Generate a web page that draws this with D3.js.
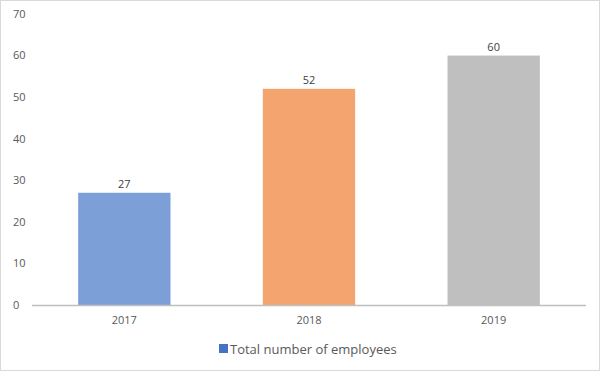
<!DOCTYPE html>
<html>
<head>
<meta charset="utf-8">
<script src="https://cdn.jsdelivr.net/npm/d3@7"></script>
<style>
  body { margin: 0; background: #fff; }
  text { font-family: "Open Sans", "Liberation Sans", sans-serif; fill: #595959; }
</style>
</head>
<body>
<div id="plot"></div>
<script>
var years   = ["2017", "2018", "2019"],
    values  = [27, 52, 60],
    colors  = ["#7C9FD8", "#F4A46E", "#BFBFBF"],
    yTicks  = [0, 10, 20, 30, 40, 50, 60, 70],
    seriesName = "Total number of employees";

var W = 600, H = 371;
var plot = {left: 32, right: 586, top: 14, bottom: 305};

var svg = d3.select("#plot").append("svg")
    .attr("width", W)
    .attr("height", H);

// chart border
svg.append("rect")
    .attr("x", 0.5).attr("y", 0.5)
    .attr("width", W - 1).attr("height", H - 1)
    .attr("fill", "#fff")
    .attr("stroke", "#D9D9D9");

var x = d3.scaleBand()
    .domain(years)
    .range([plot.left, plot.right])
    .paddingInner(0.5)
    .paddingOuter(0.25);

var y = d3.scaleLinear()
    .domain([0, 70])
    .range([plot.bottom, plot.top]);

// y tick labels (no axis line, no gridlines)
svg.selectAll(".ylab")
    .data(yTicks)
    .enter().append("text")
    .attr("class", "ylab")
    .attr("x", 13)
    .attr("y", function(d) { return y(d); })
    .attr("dy", "0.35em")
    .attr("text-anchor", "start")
    .style("font-size", "11px")
    .text(function(d) { return d; });

// bars
svg.selectAll(".bar")
    .data(values)
    .enter().append("rect")
    .attr("class", "bar")
    .attr("x", function(d, i) { return x(years[i]); })
    .attr("y", function(d) { return y(d); })
    .attr("width", x.bandwidth())
    .attr("height", function(d) { return y(0) - y(d); })
    .attr("fill", function(d, i) { return colors[i]; });

// value labels
svg.selectAll(".vlab")
    .data(values)
    .enter().append("text")
    .attr("class", "vlab")
    .attr("x", function(d, i) { return x(years[i]) + x.bandwidth() / 2; })
    .attr("y", function(d) { return y(d) - 5; })
    .attr("text-anchor", "middle")
    .style("font-size", "11px")
    .style("fill", "#404040")
    .text(function(d) { return d; });

// x axis line
svg.append("line")
    .attr("x1", plot.left).attr("x2", plot.right)
    .attr("y1", y(0) + 0.5).attr("y2", y(0) + 0.5)
    .attr("stroke", "#BFBFBF")
    .attr("stroke-width", 1.5);

// category labels
svg.selectAll(".xlab")
    .data(years)
    .enter().append("text")
    .attr("class", "xlab")
    .attr("x", function(d) { return x(d) + x.bandwidth() / 2; })
    .attr("y", 320)
    .attr("dy", "0.35em")
    .attr("text-anchor", "middle")
    .style("font-size", "11px")
    .text(function(d) { return d; });

// legend
svg.append("rect")
    .attr("x", 219).attr("y", 344)
    .attr("width", 9).attr("height", 9)
    .attr("fill", "#4472C4");
svg.append("text")
    .attr("x", 230).attr("y", 349)
    .attr("dy", "0.35em")
    .style("font-size", "13px")
    .text(seriesName);
</script>
</body>
</html>
